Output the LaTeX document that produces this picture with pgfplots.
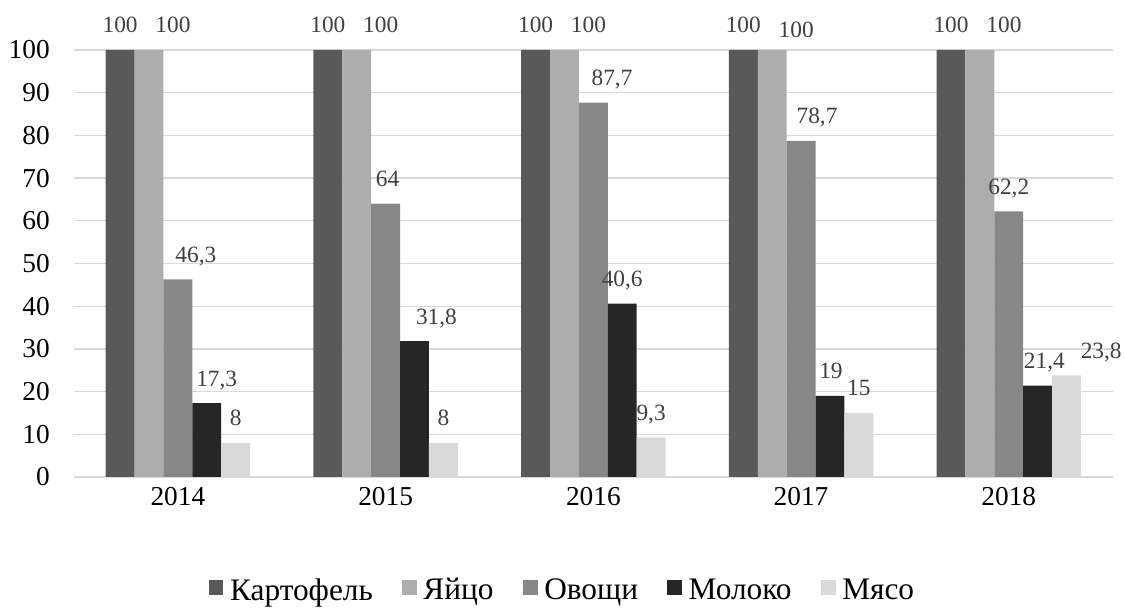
\documentclass[border=0pt]{standalone}
\usepackage{pgfplots}
\pgfplotsset{compat=1.18}
\usepackage{fontspec}
\setmainfont{Liberation Serif}

\definecolor{cKart}{HTML}{595959}
\definecolor{cYajc}{HTML}{ADADAD}
\definecolor{cOvos}{HTML}{878787}
\definecolor{cMol}{HTML}{262626}
\definecolor{cMyas}{HTML}{D9D9D9}
\definecolor{cGrid}{HTML}{D9D9D9}
\definecolor{cLab}{HTML}{404040}

\begin{document}
\begin{tikzpicture}
\path[use as bounding box] (-55.5pt,-99.75pt) rectangle (788.25pt,357.75pt);
\begin{axis}[
  at={(0,0)}, anchor=south west,
  scale only axis,
  width=779pt, height=320.25pt,
  ybar=0pt,
  bar width=0.139,
  xmin=-0.5, xmax=4.5,
  ymin=0, ymax=100,
  xtick={0,1,2,3,4},
  xticklabels={2014,2015,2016,2017,2018},
  ytick={0,10,...,100},
  ymajorgrids,
  grid style={cGrid, line width=1pt},
  axis line style={draw=none},
  tick style={draw=none},
  clip=false,
  /pgf/number format/assume math mode=true,
  /pgf/number format/use comma,
  /pgf/number format/fixed,
  /pgf/number format/precision=1,
  ticklabel style={font=\fontsize{20.5}{22}\selectfont, text=black},
  yticklabel style={anchor=east, inner sep=0pt, xshift=-18pt},
  xticklabel style={anchor=base, inner sep=0pt, yshift=-17pt},
  nodes near coords,
  nodes near coords style={font=\fontsize{17.5}{19}\selectfont, text=cLab,
    anchor=base, inner sep=0pt, yshift=12.75pt},
  visualization depends on=value \coordindex \as \myidx,
  legend columns=5,
  legend style={at={(0.4706,-0.265)}, anchor=center, draw=none,
    font=\fontsize{23.5}{26}\selectfont, inner sep=0pt,
    /tikz/every odd column/.append style={column sep=3pt},
    /tikz/every even column/.append style={column sep=20pt}},
  legend image code/.code={\fill[#1] (0pt,-3.5pt) rectangle (11pt,7.5pt);},
]
\addplot[fill=cKart, draw=none] coordinates {(0,100) (1,100) (2,100) (3,100) (4,100)};
\addlegendentry{Картофель}
\addplot[fill=cYajc, draw=none,
  every node near coord/.append style={xshift=18pt,
    yshift={{0,0,0,-3.75,0}[\myidx]}}]
  coordinates {(0,100) (1,100) (2,100) (3,100) (4,100)};
\addlegendentry{Яйцо}
\addplot[fill=cOvos, draw=none,
  every node near coord/.append style={xshift={{13.5,1.5,14,12,0}[\myidx]}}]
  coordinates {(0,46.3) (1,64) (2,87.7) (3,78.7) (4,62.2)};
\addlegendentry{Овощи}
\addplot[fill=cMol, draw=none,
  every node near coord/.append style={xshift={{7.5,16.5,0,0.75,5}[\myidx]}}]
  coordinates {(0,17.3) (1,31.8) (2,40.6) (3,19) (4,21.4)};
\addlegendentry{Молоко}
\addplot[fill=cMyas, draw=none,
  every node near coord/.append style={xshift={{0,0,0,0,26}[\myidx]}}]
  coordinates {(0,8) (1,8) (2,9.3) (3,15) (4,23.8)};
\addlegendentry{Мясо}
\end{axis}
\end{tikzpicture}
\end{document}
